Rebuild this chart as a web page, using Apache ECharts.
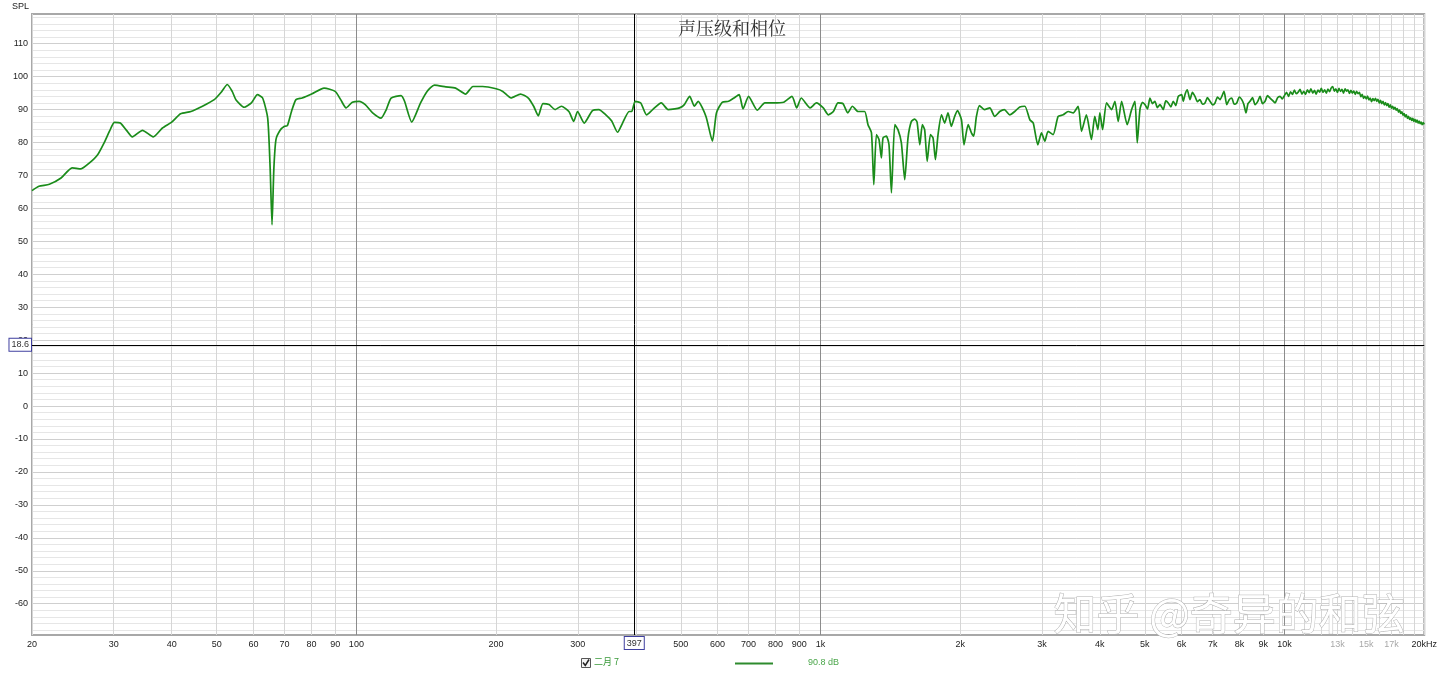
<!DOCTYPE html>
<html>
<head>
<meta charset="utf-8">
<script src="https://cdn.jsdelivr.net/npm/echarts@6/dist/echarts.min.js"></script>
<style>
html,body{margin:0;padding:0;background:#fff;}
#chart{width:1440px;height:676px;}
</style>
</head>
<body>
<div id="chart"></div>
<script>
// ---- data ----
const chartTitle = '声压级和相位';
const yAxisName = 'SPL';
const seriesName = '二月 7';
const seriesValueText = '90.8 dB';
const cursorFreq = 397;
const cursorLevel = 18.6;
const watermark = '知乎 @奇异的和弦';

const freqs = [
20,20.7,21.8,23.1,24.4,25.5,26.6,27.7,28.6,29.4,30.1,31.0,32.0,32.9,34.6,36.5,38.2,40,41.8,44,46.6,49.4,51.3,52.7,54.0,55.0,57.3,59.4,61.2,62.8,64.4,65.2,65.8,66.4,67.1,68.5,70,71,72.5,74.1,76.4,80.3,85.2,90,92.5,95,98,
101.4,104.5,108.4,113,116,118.8,124.8,127,131.6,137.5,142,147.3,155.8,163.6,171.9,178.3,187.2,200,206.8,215.4,225.7,234.7,241,246.6,252.3,260,268,276.5,287,294,299.6,309.7,322.6,333,344.8,355,365.4,374.6,387,392,398.8,
410,422,435,453.9,469.6,485.6,497,509,522.6,535,545,566.6,585,596.9,614,634,651,668,681,700,731,759,790,833,868,889,909,950,980,
1014,1040,1066,1091,1118,1145,1172,1205,1245,1266,1288,1303,1320,1337,1353,1364,1387,1405,1422,1446,1469,1494,1519,1544,1570,1596,1615,1637,1658,1677,1698,1726,1748,1769,1792,1823,1852,1883,1914,1946,1973,
2013,2038,2081,2115,2139,2168,2201,2256,2317,2374,2434,2490,2558,2622,2689,2757,2826,2874,2940,2994,3044,3094,3172,3252,3334,3418,3504,3592,3652,3742,3836,3900,3960,
4000,4054,4136,4240,4310,4381,4456,4581,4683,4761,4815,4880,4940,5003,5066,5129,5193,5257,5320,5389,5478,5547,5616,5690,5757,5830,5902,6002,6050,6110,6171,6254,6330,6412,6490,6573,6655,6739,6820,6909,7000,7083,7170,7261,7406,7506,7600,7695,7790,7888,7990,8087,8170,8260,8340,8426,8530,8638,8750,8855,8965,9078,9190,9306,9420,9540,9660,9779,9890,
10000,10100,10200,10300,10400,10500,10600,10700,10800,10900,11000,11100,11200,11300,11400,11500,11600,11700,11800,11900,12000,12100,12200,12300,12400,12500,12600,12700,12800,12900,13000,13100,13200,13300,13400,13500,13600,13700,13800,13900,14000,14100,14200,14300,14400,14500,14600,14700,14800,14900,15000,15100,15200,15300,15400,15500,15600,15700,15800,15900,16000,16100,16200,16300,16400,16500,16600,16700,16800,16900,17000,17100,17200,17300,17400,17500,17600,17700,17800,17900,18000,18100,18200,18300,18400,18500,18600,18700,18800,18900,19000,19100,19200,19300,19400,19500,19600,19700,19800,19900,20000
];
const spl = [
65.4,66.7,67.3,69.2,72.3,72.0,73.8,76.3,79.9,83.5,86.1,85.9,83.6,81.7,83.7,81.7,84.4,86.2,88.7,89.4,91.0,93.0,95.5,97.6,95.5,93.0,90.7,92.0,94.5,93.5,87.4,72.0,55.0,72.0,80.9,83.7,84.9,85.1,89.5,93.0,93.5,94.8,96.5,95.5,93.0,90.5,92.2,
92.5,91.5,89.0,87.4,90.0,93.5,94.2,92.5,86.2,92.0,95.5,97.4,96.9,96.5,94.7,97.0,97.0,96.3,95.5,93.5,94.7,93.5,91.0,88.1,91.8,91.5,90.0,91.0,89.4,86.4,89.4,85.9,89.7,90.0,88.4,86.5,83.1,85.9,89.4,89.4,92.5,
92.0,88.4,90.0,92.0,90.0,90.2,90.5,91.5,94.0,91.0,92.5,87.9,80.4,89.0,92.2,92.5,93.5,94.5,90.2,94.0,89.8,92.0,92.0,92.2,94.0,90.5,93.5,90.5,92.0,
90.5,88.4,89.4,92.0,91.8,89.0,91.0,89.4,89.4,85.4,82.9,67.2,82.4,80.9,75.3,81.4,81.9,79.3,64.7,85.4,83.9,79.9,68.7,81.4,86.4,87.1,86.2,79.3,85.4,83.9,74.3,82.4,81.4,74.8,82.4,88.4,85.9,89.0,84.9,87.9,89.7,
86.9,79.3,85.4,82.9,81.9,87.9,91.2,90.0,90.5,87.9,89.4,90.0,88.4,89.4,90.8,91.0,86.9,85.9,79.3,82.9,80.4,83.4,82.4,87.9,88.4,89.4,89.0,91.0,83.4,88.4,80.9,87.9,83.9,
89.0,83.9,92.0,90.0,92.5,86.4,92.5,85.4,90.0,92.5,79.9,90.0,92.2,91.5,90.2,93.5,91.8,92.5,90.6,91.5,90.0,92.6,92.0,90.8,92.5,91.2,94.0,94.5,92.5,94.8,96.0,93.0,95.2,94.0,92.4,93.0,91.6,92.0,93.6,92.5,91.4,92.0,93.8,93.0,95.5,91.5,93.0,93.5,91.6,92.0,93.8,93.0,91.6,89.0,91.8,92.5,93.6,91.5,92.4,94.0,91.8,92.5,94.2,93.5,92.8,92.0,93.6,94.0,93.2,
94.3,95.2,94.0,95.4,94.6,95.9,94.8,95.3,96.1,94.7,95.5,94.6,96.0,95.1,96.3,95.0,95.8,94.7,95.9,95.3,96.4,95.2,96.0,95.0,96.2,95.4,96.5,97.0,95.6,96.3,95.2,96.4,95.5,96.1,95.0,96.3,95.6,96.0,94.9,95.8,95.0,95.6,94.6,95.5,94.8,95.2,93.9,94.6,93.4,94.0,93.2,94.1,92.9,93.5,92.4,93.3,92.7,93.4,92.5,93.1,92.0,92.8,91.8,92.5,91.4,92.1,91.2,91.8,90.7,91.4,90.4,91.0,90.1,90.7,89.8,90.3,89.2,89.8,88.8,89.3,88.3,88.8,87.8,88.4,87.3,87.9,87.0,87.5,86.7,87.3,86.4,87.0,86.2,86.8,85.9,86.5,85.7,86.2,85.4,86.0,85.5
];

// axis ticks / labels
const yTickValues = [-60,-50,-40,-30,-20,-10,0,10,20,30,40,50,60,70,80,90,100,110];
const xTickFreqs = [20,30,40,50,60,70,80,90,100,200,300,500,600,700,800,900,1000,2000,3000,4000,5000,6000,7000,8000,9000,10000,13000,15000,17000,20000];
const xTickLabels = ['20','30','40','50','60','70','80','90','100','200','300','500','600','700','800','900','1k','2k','3k','4k','5k','6k','7k','8k','9k','10k','13k','15k','17k','20kHz'];
const xFaintLabels = ['13k','15k','17k'];
const xGridFreqs = [20,30,40,50,60,70,80,90,100,200,300,400,500,600,700,800,900,1000,2000,3000,4000,5000,6000,7000,8000,9000,10000,11000,12000,13000,14000,15000,16000,17000,18000,19000,20000];
const xDecadeFreqs = [100,1000,10000];

// minor horizontal grid: every 2 dB between the labelled ticks
const yMinor = [];
for (let v = -68; v <= 118; v += 2) { if (v % 10 !== 0) yMinor.push(v); }

const data = freqs.map((f, i) => [f, spl[i]]);

const FONT = 'Liberation Sans, Arial, sans-serif';
const chart = echarts.init(document.getElementById('chart'), null, {renderer: 'canvas'});

const markData = xDecadeFreqs.map(f => ({xAxis: f, lineStyle: {color: '#8c8c8c', width: 1, type: 'solid'}, label: {show: false}}));
markData.push({
  xAxis: cursorFreq,
  lineStyle: {color: '#000', width: 1, type: 'solid'},
  label: {show: true, position: 'start', distance: 2, formatter: String(cursorFreq),
    color: '#333', fontSize: 9, fontFamily: FONT, backgroundColor: '#fff',
    borderColor: '#4040a0', borderWidth: 1, padding: [2, 2, 1, 2]}
});
markData.push({
  yAxis: cursorLevel,
  lineStyle: {color: '#000', width: 1, type: 'solid'},
  label: {show: true, position: 'start', distance: 1, formatter: String(cursorLevel),
    color: '#333', fontSize: 9, fontFamily: FONT, backgroundColor: '#fff',
    borderColor: '#4040a0', borderWidth: 1, padding: [2, 2, 1, 2]}
});

const option = {
  backgroundColor: '#fff',
  animation: false,
  title: {
    text: chartTitle, left: 673, top: 14,
    textStyle: {fontSize: 18, fontWeight: 'normal', color: '#333', fontFamily: 'Noto Serif CJK SC, Noto Sans CJK SC, serif'}
  },
  grid: {left: 32, right: 15, top: 14, bottom: 41, show: true, borderColor: '#a8a8a8', borderWidth: 2, backgroundColor: '#fff'},
  xAxis: {
    type: 'log', logBase: 10, min: 20, max: 20000,
    axisLine: {show: false},
    axisTick: {show: false, customValues: xGridFreqs},
    axisLabel: {
      customValues: xTickFreqs, margin: 5, fontSize: 9, fontFamily: FONT,
      showMinLabel: true, showMaxLabel: true,
      formatter: v => { const i = xTickFreqs.indexOf(v); return i >= 0 ? xTickLabels[i] : ''; },
      color: v => { const i = xTickFreqs.indexOf(v); return (i >= 0 && xFaintLabels.indexOf(xTickLabels[i]) >= 0) ? '#a8a8a8' : '#222'; }
    },
    splitLine: {show: true, lineStyle: {color: '#d6d6d6', width: 1}},
    minorSplitLine: {show: false}
  },
  yAxis: [{
    type: 'value', min: -69.5, max: 119,
    axisLine: {show: false},
    axisTick: {show: false, customValues: yTickValues},
    axisLabel: {customValues: yTickValues, margin: 4, fontSize: 9, fontFamily: FONT, color: '#222'},
    splitLine: {show: true, lineStyle: {color: '#cfcfcf', width: 1}}
  }, {
    type: 'value', min: -69.5, max: 119, position: 'left',
    axisLine: {show: false},
    axisTick: {show: false, customValues: yMinor},
    axisLabel: {show: false},
    splitLine: {show: true, lineStyle: {color: '#e6e6e6', width: 1}}
  }],
  series: [{
    name: seriesName, type: 'line', data: data, yAxisIndex: 0,
    showSymbol: false, symbol: 'none', smooth: 0.2,
    lineStyle: {color: '#1a8c1a', width: 1.7},
    z: 5,
    markLine: {silent: true, symbol: 'none', animation: false, z: 3, data: markData}
  }],
  graphic: [
    {type: 'text', left: 12, top: 2, style: {text: yAxisName, fontSize: 9, fontFamily: FONT, fill: '#222'}},
    {type: 'text', left: 1053, top: 592, z: 100, style: {
      text: watermark, fontSize: 43, fontFamily: 'Noto Sans CJK SC, sans-serif', fill: '#ffffff',
      stroke: '#b0b0b0', lineWidth: 1, shadowColor: 'rgba(0,0,0,0.5)', shadowOffsetX: 2, shadowOffsetY: 2, shadowBlur: 2}},
    {type: 'rect', shape: {x: 581.5, y: 658.5, width: 9, height: 9}, style: {fill: '#f4f4f4', stroke: '#555', lineWidth: 1}},
    {type: 'polyline', shape: {points: [[583, 662.5], [585.3, 665.5], [589, 659.5]]}, style: {stroke: '#222', lineWidth: 1.5, fill: null}},
    {type: 'text', left: 594, top: 657, style: {text: seriesName, fontSize: 9, fontFamily: 'Noto Sans CJK SC, ' + FONT, fill: '#3a9a3a'}},
    {type: 'line', shape: {x1: 735, y1: 663.5, x2: 773, y2: 663.5}, style: {stroke: '#2e8b2e', lineWidth: 2}},
    {type: 'text', left: 808, top: 658, style: {text: seriesValueText, fontSize: 9, fontFamily: FONT, fill: '#4aa64a'}}
  ]
};
chart.setOption(option);
</script>
</body>
</html>
